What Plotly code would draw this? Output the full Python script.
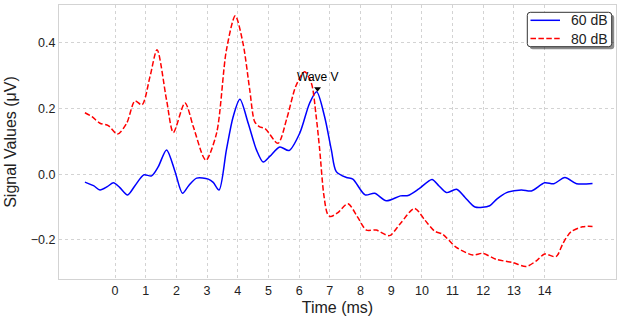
import plotly.graph_objects as go

# ---- data ----
time_60 = [-0.98, -0.7, -0.49, -0.25, -0.05, 0.15, 0.41, 0.65, 0.94, 1.19, 1.41, 1.68, 1.95, 2.20, 2.40,
           2.66, 3.04, 3.20, 3.39, 3.63, 3.85, 4.07, 4.34, 4.61, 4.83, 5.05, 5.37, 5.67, 6.02, 6.34,
           6.57, 6.83, 7.05, 7.21, 7.54, 7.75, 8.15, 8.46, 8.84, 9.30, 9.55, 9.90, 10.33, 10.55,
           10.80, 11.13, 11.40, 11.73, 12.21, 12.45, 12.76, 13.24, 13.57, 14.0, 14.3, 14.66, 15.04, 15.56]
signal_60 = [-0.024, -0.035, -0.048, -0.038, -0.026, -0.040, -0.063, -0.035, -0.002, -0.005, 0.023, 0.074,
             0.010, -0.058, -0.035, -0.012, -0.015, -0.025, -0.048, 0.074, 0.175, 0.228, 0.155, 0.074,
             0.037, 0.055, 0.083, 0.072, 0.125, 0.216, 0.251, 0.175, 0.074, 0.008, -0.010, -0.015,
             -0.063, -0.058, -0.081, -0.066, -0.065, -0.045, -0.016, -0.035, -0.056, -0.046, -0.070,
             -0.100, -0.096, -0.075, -0.056, -0.048, -0.051, -0.026, -0.029, -0.010, -0.029, -0.028]

time_80 = [-0.98, -0.75, -0.49, -0.22, 0.08, 0.38, 0.65, 0.88, 1.14, 1.37, 1.68, 1.90, 2.28, 2.55, 2.87,
           2.97, 3.31, 3.63, 3.92, 4.17, 4.39, 4.55, 4.70, 4.90, 5.31, 5.60, 5.90, 6.18, 6.40, 6.55,
           6.67, 6.80, 6.92, 7.02, 7.25, 7.59, 7.90, 8.19, 8.51, 8.94, 9.30, 9.76, 10.10, 10.41, 10.68,
           11.11, 11.66, 11.98, 12.42, 12.96, 13.40, 13.75, 14.0, 14.37, 14.60, 14.86, 15.24, 15.56]
signal_80 = [0.187, 0.175, 0.155, 0.148, 0.122, 0.155, 0.223, 0.211, 0.297, 0.379, 0.226, 0.127, 0.217,
             0.145, 0.054, 0.042, 0.125, 0.378, 0.482, 0.399, 0.257, 0.160, 0.145, 0.138, 0.094, 0.170,
             0.270, 0.312, 0.277, 0.180, 0.074, -0.060, -0.120, -0.129, -0.118, -0.090, -0.130, -0.170,
             -0.170, -0.187, -0.150, -0.104, -0.140, -0.173, -0.183, -0.222, -0.246, -0.241, -0.259,
             -0.269, -0.281, -0.262, -0.243, -0.251, -0.210, -0.175, -0.160, -0.159]

series_names = ["60 dB", "80 dB"]
series_colors = ["#0000ff", "#ff0000"]
series_dash = ["solid", "5.5px,2.4px"]
x_ticks = list(range(0, 15))
y_ticks = [-0.2, 0.0, 0.2, 0.4]
annotation_label = "Wave V"

FONT = "Liberation Sans, Arial, sans-serif"
W, H = 624, 324
ML, MR, MT, MB = 59, 8, 5, 45
PW, PH = W - ML - MR, H - MT - MB

def xp(px):
    return (px - ML) / PW

def yp(py):
    return (H - MB - py) / PH

fig = go.Figure()
for xs, ys, name, col, dash in zip([time_60, time_80], [signal_60, signal_80], series_names, series_colors, series_dash):
    fig.add_trace(go.Scatter(x=xs, y=ys, mode="lines", name=name, showlegend=False,
                             line=dict(color=col, width=1.5, dash=dash, shape="spline", smoothing=0.8)))

# Wave V marker at the peak of the 60 dB response
i_peak = max(range(len(signal_60)), key=lambda i: signal_60[i])
peak_t, peak_v = time_60[i_peak], signal_60[i_peak]
fig.add_trace(go.Scatter(x=[peak_t + 0.03], y=[peak_v + 0.009], mode="markers", showlegend=False,
                         marker=dict(symbol="triangle-down", color="black", size=6, line=dict(width=0)),
                         hoverinfo="skip"))
fig.add_annotation(x=peak_t + 0.03, y=peak_v + 0.009, text=annotation_label, showarrow=False,
                   yshift=12, font=dict(family=FONT, size=12, color="black"))

# ---- legend box (matplotlib style: rounded, with shadow) ----
def rrect(x0, y0, x1, y1, r=3):
    rx, ry = r / PW, r / PH
    X0, X1, Y0, Y1 = xp(x0), xp(x1), yp(y0), yp(y1)  # Y0 top, Y1 bottom (paper)
    return (f"M {X0+rx},{Y0} L {X1-rx},{Y0} Q {X1},{Y0} {X1},{Y0-ry} "
            f"L {X1},{Y1+ry} Q {X1},{Y1} {X1-rx},{Y1} L {X0+rx},{Y1} "
            f"Q {X0},{Y1} {X0},{Y1+ry} L {X0},{Y0-ry} Q {X0},{Y0} {X0+rx},{Y0} Z")

box = (527.3, 12.3, 611.7, 46.7)
fig.add_shape(type="path", xref="paper", yref="paper", layer="above",
              path=rrect(box[0] + 2.5, box[1] + 2.5, box[2] + 2.5, box[3] + 2.5),
              fillcolor="rgba(0,0,0,0.45)", line=dict(width=0))
fig.add_shape(type="path", xref="paper", yref="paper", layer="above",
              path=rrect(*box), fillcolor="white", line=dict(color="#333", width=1))
for k, (name, col, dash) in enumerate(zip(series_names, series_colors, series_dash)):
    ypix = 20.3 + k * 18.2
    fig.add_shape(type="line", xref="paper", yref="paper", layer="above",
                  x0=xp(530.5), x1=xp(560), y0=yp(ypix), y1=yp(ypix),
                  line=dict(color=col, width=1.5, dash=dash))
    fig.add_annotation(xref="paper", yref="paper", x=xp(609.5), y=yp(ypix), xanchor="right", yanchor="middle",
                       text=name, showarrow=False, font=dict(family=FONT, size=14, color="#222"))

grid = dict(showgrid=True, gridcolor="#d3d3d3", griddash="dot", gridwidth=1,
            showline=True, linecolor="#d3d3d3", linewidth=1, mirror=True, automargin=False,
            zeroline=False, ticks="", tickfont=dict(family=FONT, size=12.5, color="#222"))

fig.update_layout(
    width=W, height=H,
    margin=dict(l=ML, r=MR, t=MT, b=MB),
    paper_bgcolor="white", plot_bgcolor="white",
    font=dict(family=FONT, color="#222"),
    showlegend=False,
    xaxis=dict(range=[-1.825, 16.325], tickvals=x_ticks, title=dict(text="Time (ms)", font=dict(size=16), standoff=4), **grid),
    yaxis=dict(range=[-0.319, 0.515], tickvals=y_ticks, tickformat=".1f", title=dict(text="Signal Values (μV)", font=dict(size=16), standoff=10), **grid),
)

fig.write_html("out.html", config={"displayModeBar": False},
               post_script="document.body.style.margin='0';")
